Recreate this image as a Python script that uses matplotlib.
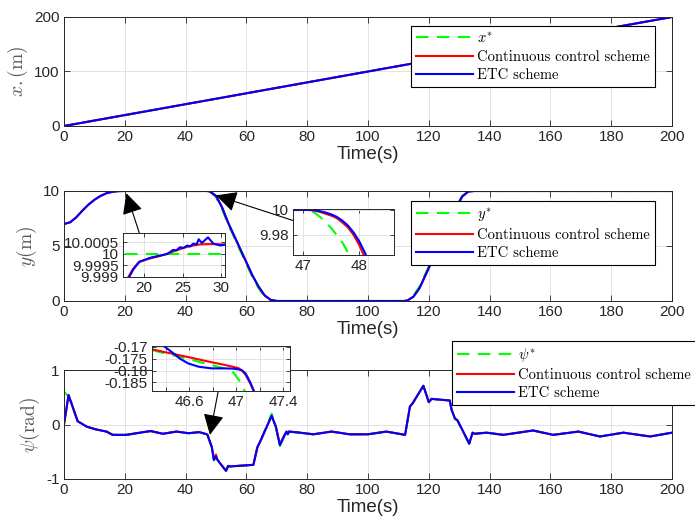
import numpy as np
import matplotlib
matplotlib.use("Agg")
import matplotlib.pyplot as plt
from matplotlib.ticker import FuncFormatter, FixedLocator

plt.rcParams["font.family"] = ["Liberation Sans", "DejaVu Sans"]
plt.rcParams["mathtext.fontset"] = "cm"
plt.rcParams["axes.unicode_minus"] = False

GREEN = (0, 1, 0)
RED = (1, 0, 0)
BLUE = (0, 0, 1)
DARK = "#262626"
GRID = "#e3e3e3"

# ---- surge position x (m) ----
x_t = [0, 200]
x_ref = [0, 200]
x_cont = [0, 200]
x_etc = [0, 200]

# ---- sway position y (m) ----
y_t = [0, 2, 4, 6, 8, 10, 12, 14, 16, 18, 20, 47, 48, 50, 52, 54, 56, 58, 60,
       62, 64, 66, 68, 70, 112, 113, 115, 117, 119, 121, 123, 125, 127, 129,
       131, 133, 135, 200]
y_ref = [10, 10, 10, 10, 10, 10, 10, 10, 10, 10, 10, 10, 9.93, 9.45, 8.35,
         6.95, 5.75, 4.55, 3.35, 2.15, 1.15, 0.4, 0.06, 0, 0, 0.08, 0.5, 1.35,
         2.55, 3.75, 4.95, 6.15, 7.35, 8.6, 9.55, 9.97, 10, 10]
y_cont = [7.0, 7.15, 7.6, 8.2, 8.75, 9.2, 9.55, 9.8, 9.93, 9.99, 10, 10, 9.96,
          9.55, 8.5, 7.1, 5.9, 4.7, 3.5, 2.3, 1.3, 0.5, 0.1, 0, 0, 0.05, 0.4,
          1.2, 2.4, 3.6, 4.8, 6.0, 7.2, 8.5, 9.5, 9.95, 10, 10]
y_etc = [7.0, 7.15, 7.6, 8.2, 8.75, 9.2, 9.55, 9.8, 9.93, 9.99, 10, 10, 9.96,
         9.56, 8.52, 7.12, 5.92, 4.72, 3.52, 2.32, 1.32, 0.51, 0.1, 0, 0, 0.05,
         0.4, 1.2, 2.4, 3.6, 4.8, 6.0, 7.2, 8.5, 9.5, 9.95, 10, 10]

# y detail, t = 17.5 .. 30.5 s
yz1_t = [17.5, 18.0, 18.6, 19.4, 20.8, 22.0, 23.0, 23.8, 24.2, 24.7, 25.1,
         25.6, 26.0, 26.4, 26.8, 27.1, 27.5, 28.3, 29.0, 29.9, 30.5]
yz1_ref = [10.0] * len(yz1_t)
yz1_cont = [9.9986, 9.9990, 9.99935, 9.99966, 9.9998, 9.9999, 10.0, 10.0001,
            10.00015, 10.0002, 10.00025, 10.0003, 10.00033, 10.00036, 10.00038,
            10.0004, 10.00041, 10.00042, 10.00042, 10.00041, 10.0004]
yz1_etc = [9.9985, 9.99893, 9.99931, 9.99965, 9.99983, 9.99992, 9.99999,
           10.00017, 10.00015, 10.00029, 10.00025, 10.00036, 10.00032,
           10.00044, 10.0004, 10.00063, 10.00047, 10.00071, 10.00044,
           10.00036, 10.0004]

# y detail, t = 46.8 .. 48.6 s
yz2_t = [46.8, 47.0, 47.1, 47.2, 47.3, 47.4, 47.5, 47.6, 47.7, 47.8, 47.9,
         48.0, 48.1, 48.2]
yz2_ref = [10.0, 10.0, 10.0, 9.998, 9.9945, 9.9905, 9.9855, 9.980, 9.974,
           9.966, 9.958, 9.949, 9.94, 9.93]
yz2_cont = [10.0, 10.0, 10.0, 9.9995, 9.9985, 9.997, 9.9955, 9.9935, 9.990,
            9.986, 9.980, 9.972, 9.962, 9.952]
yz2_etc = [10.0002, 10.0002, 10.0001, 10.0, 9.999, 9.998, 9.9965, 9.9945,
           9.9915, 9.9875, 9.982, 9.975, 9.966, 9.956]

# ---- heading psi (rad) ----
psi_t = [0, 1.5, 4.5, 7.5, 10.5, 14, 16, 20.5, 25, 28.5, 32.5, 37, 41, 44.5,
         46.3, 47.0, 47.2, 48.6, 49.3, 50, 50.4, 51.3, 53.3, 54, 54.6, 62.3,
         63.6, 64.8, 68.3, 69.7, 71, 72.4, 73.2, 73.6, 74, 77.6, 82, 88, 94,
         100, 106, 112.2, 113.8, 114.7, 118.2, 120, 120.9, 126.9, 127.5, 128.6,
         129.4, 133.3, 134.4, 135, 139, 144.5, 154.3, 160.9, 169.2, 176.3, 184,
         192.8, 200]
psi_ref = [0.6, 0.52, 0.06, -0.04, -0.09, -0.13, -0.19, -0.19, -0.15, -0.12,
           -0.17, -0.13, -0.16, -0.14, -0.171, -0.183, -0.2, -0.43, -0.66,
           -0.6, -0.63, -0.71, -0.85, -0.76, -0.77, -0.74, -0.42, -0.28, 0.2,
           -0.06, -0.4, -0.22, -0.13, -0.18, -0.13, -0.15, -0.18, -0.13, -0.18,
           -0.18, -0.13, -0.19, 0.33, 0.39, 0.71, 0.41, 0.47, 0.44, 0.27, 0.1,
           0.07, -0.36, -0.15, -0.17, -0.15, -0.19, -0.11, -0.19, -0.13, -0.22,
           -0.15, -0.22, -0.15]
psi_cont = [0.0, 0.54, 0.06, -0.04, -0.09, -0.13, -0.19, -0.19, -0.15, -0.12,
            -0.17, -0.13, -0.16, -0.14, -0.171, -0.179, -0.19, -0.41, -0.63,
            -0.55, -0.64, -0.71, -0.85, -0.76, -0.77, -0.74, -0.42, -0.28,
            0.16, -0.04, -0.36, -0.2, -0.13, -0.18, -0.13, -0.15, -0.18, -0.13,
            -0.18, -0.18, -0.13, -0.19, 0.33, 0.39, 0.71, 0.41, 0.47, 0.44,
            0.27, 0.11, 0.08, -0.35, -0.15, -0.17, -0.15, -0.19, -0.11, -0.19,
            -0.13, -0.22, -0.15, -0.22, -0.15]
psi_etc = [0.0, 0.54, 0.06, -0.04, -0.09, -0.13, -0.19, -0.19, -0.15, -0.12,
           -0.17, -0.13, -0.16, -0.14, -0.167, -0.18, -0.19, -0.41, -0.65,
           -0.59, -0.64, -0.71, -0.85, -0.76, -0.77, -0.74, -0.42, -0.28, 0.16,
           -0.04, -0.38, -0.22, -0.13, -0.18, -0.13, -0.15, -0.18, -0.13,
           -0.18, -0.18, -0.13, -0.19, 0.33, 0.39, 0.71, 0.41, 0.47, 0.44,
           0.27, 0.11, 0.08, -0.35, -0.15, -0.17, -0.15, -0.19, -0.11, -0.19,
           -0.13, -0.22, -0.15, -0.22, -0.15]

# psi detail, t = 46.28 .. 47.46 s
pz_t = [46.28, 46.38, 46.45, 46.52, 46.59, 46.68, 46.79, 46.90, 46.97, 47.02,
        47.05, 47.08, 47.12, 47.15, 47.2]
pz_ref = [-0.1713, -0.1726, -0.1734, -0.1743, -0.1751, -0.1763, -0.1777,
          -0.1791, -0.1805, -0.1838, -0.1861, -0.1895, -0.193, -0.196, -0.2]
pz_cont = [-0.1710, -0.1721, -0.1728, -0.1736, -0.1743, -0.1753, -0.1765,
           -0.1776, -0.1784, -0.1790, -0.1800, -0.1819, -0.1855, -0.1886,
           -0.194]
pz_etc = [-0.1650, -0.1696, -0.1722, -0.1750, -0.1770, -0.1784, -0.1791,
          -0.1791, -0.1792, -0.1795, -0.1800, -0.1812, -0.1850, -0.1886,
          -0.194]

LEG_PROP = {"family": "cmr10", "size": 10.5}


def style_axes(ax, fs=11):
    ax.tick_params(direction="in", top=True, right=True, length=4, width=0.6,
                   color=DARK, labelcolor=DARK, labelsize=fs, pad=3)
    for s in ax.spines.values():
        s.set_color(DARK)
        s.set_linewidth(0.7)
    ax.grid(True, color=GRID, lw=0.7)
    ax.set_axisbelow(True)


def draw_series(ax, t, ref, cont, etc, ref_label=None):
    ax.plot(t, ref, color=GREEN, lw=1.5, dashes=(6, 4), label=ref_label)
    ax.plot(t, cont, color=RED, lw=1.5, label="Continuous control scheme")
    ax.plot(t, etc, color=BLUE, lw=1.5, label="ETC scheme")


def add_legend(ax, fig, anchor):
    leg = ax.legend(loc="upper left", bbox_to_anchor=anchor,
                    bbox_transform=fig.transFigure, prop=LEG_PROP,
                    fancybox=False, framealpha=1, edgecolor="k",
                    handlelength=3.9, labelspacing=0.3, borderpad=0.35,
                    handletextpad=0.3, borderaxespad=0)
    leg.get_frame().set_linewidth(0.8)
    leg.set_zorder(20)
    return leg


def g_fmt(v, pos):
    return "%g" % v


fig = plt.figure(figsize=(6.95, 5.26), dpi=100)
W, H = 695.0, 526.0


def px_axes(left, top, right, bottom):
    return fig.add_axes([left / W, 1 - bottom / H, (right - left) / W,
                         (bottom - top) / H])


ax1 = px_axes(64, 17, 672, 126)
ax2 = px_axes(64, 191, 672, 301)
ax3 = px_axes(64, 370, 672, 479)

YL = dict(fontsize=14, color="#5a5a5a", labelpad=3)

# x(t)
draw_series(ax1, x_t, x_ref, x_cont, x_etc, r"$x^{*}$")
ax1.set_xlim(0, 200)
ax1.set_ylim(0, 200)
ax1.set_yticks([0, 100, 200])
ax1.set_ylabel(r"$x.(\mathrm{m})$", **YL)
add_legend(ax1, fig, (411 / W, 1 - 26 / H))

# y(t)
draw_series(ax2, y_t, y_ref, y_cont, y_etc, r"$y^{*}$")
ax2.set_xlim(0, 200)
ax2.set_ylim(0, 10)
ax2.set_yticks([0, 5, 10])
ax2.set_ylabel(r"$y(\mathrm{m})$", **YL)
add_legend(ax2, fig, (411 / W, 1 - 201 / H))

# psi(t)
draw_series(ax3, psi_t, psi_ref, psi_cont, psi_etc, r"$\psi^{*}$")
ax3.set_xlim(0, 200)
ax3.set_ylim(-1, 1)
ax3.set_yticks([-1, 0, 1])
ax3.set_ylabel(r"$\psi(\mathrm{rad})$", **YL)
add_legend(ax3, fig, (452 / W, 1 - 341 / H))

for ax in (ax1, ax2, ax3):
    ax.set_xticks(np.arange(0, 201, 20))
    ax.set_xlabel("Time(s)", fontsize=13.5, color=DARK, labelpad=1)
    style_axes(ax)

# detail windows
ins1 = px_axes(123, 233, 225, 277)
draw_series(ins1, yz1_t, yz1_ref, yz1_cont, yz1_etc)
ins1.set_xlim(17.3, 30.5)
ins1.set_ylim(9.999, 10.0009)
ins1.set_xticks([20, 25, 30])
ins1.set_yticks([9.999, 9.9995, 10, 10.0005])

ins2 = px_axes(293, 209, 394, 255)
draw_series(ins2, yz2_t, yz2_ref, yz2_cont, yz2_etc)
ins2.set_xlim(46.82, 48.62)
ins2.set_ylim(9.964, 10.0008)
ins2.set_xticks([47, 48])
ins2.set_yticks([9.98, 10])

ins3 = px_axes(152, 346, 290, 391)
draw_series(ins3, pz_t, pz_ref, pz_cont, pz_etc)
ins3.set_xlim(46.28, 47.46)
ins3.set_ylim(-0.1887, -0.1696)
ins3.xaxis.set_major_locator(FixedLocator([46.4, 46.6, 46.8, 47.0, 47.2, 47.4]))
ins3.set_xticklabels(["", "46.6", "", "47", "", "47.4"])
ins3.set_yticks([-0.185, -0.18, -0.175, -0.17])

for ins in (ins1, ins2, ins3):
    style_axes(ins)
    ins.tick_params(length=3)
    ins.yaxis.set_major_formatter(FuncFormatter(g_fmt))
    if ins is not ins3:
        ins.xaxis.set_major_formatter(FuncFormatter(g_fmt))
    ins.set_zorder(10)

# arrows from the detail windows to the curves
arrow = dict(arrowstyle="-|>,head_length=0.8,head_width=0.4", color="k",
             lw=0.8, mutation_scale=16, shrinkA=0, shrinkB=0)
ax2.annotate("", xy=(20.5, 9.8), xytext=(0.16, 1.0), textcoords=ins1,
             arrowprops=arrow, annotation_clip=False)
ax2.annotate("", xy=(50, 9.6), xytext=(0.0, 0.75), textcoords=ins2,
             arrowprops=arrow, annotation_clip=False)
ax3.annotate("", xy=(48, -0.19), xytext=(0.48, 0.0), textcoords=ins3,
             arrowprops=arrow, annotation_clip=False)

fig.savefig("out.png", dpi=100)
